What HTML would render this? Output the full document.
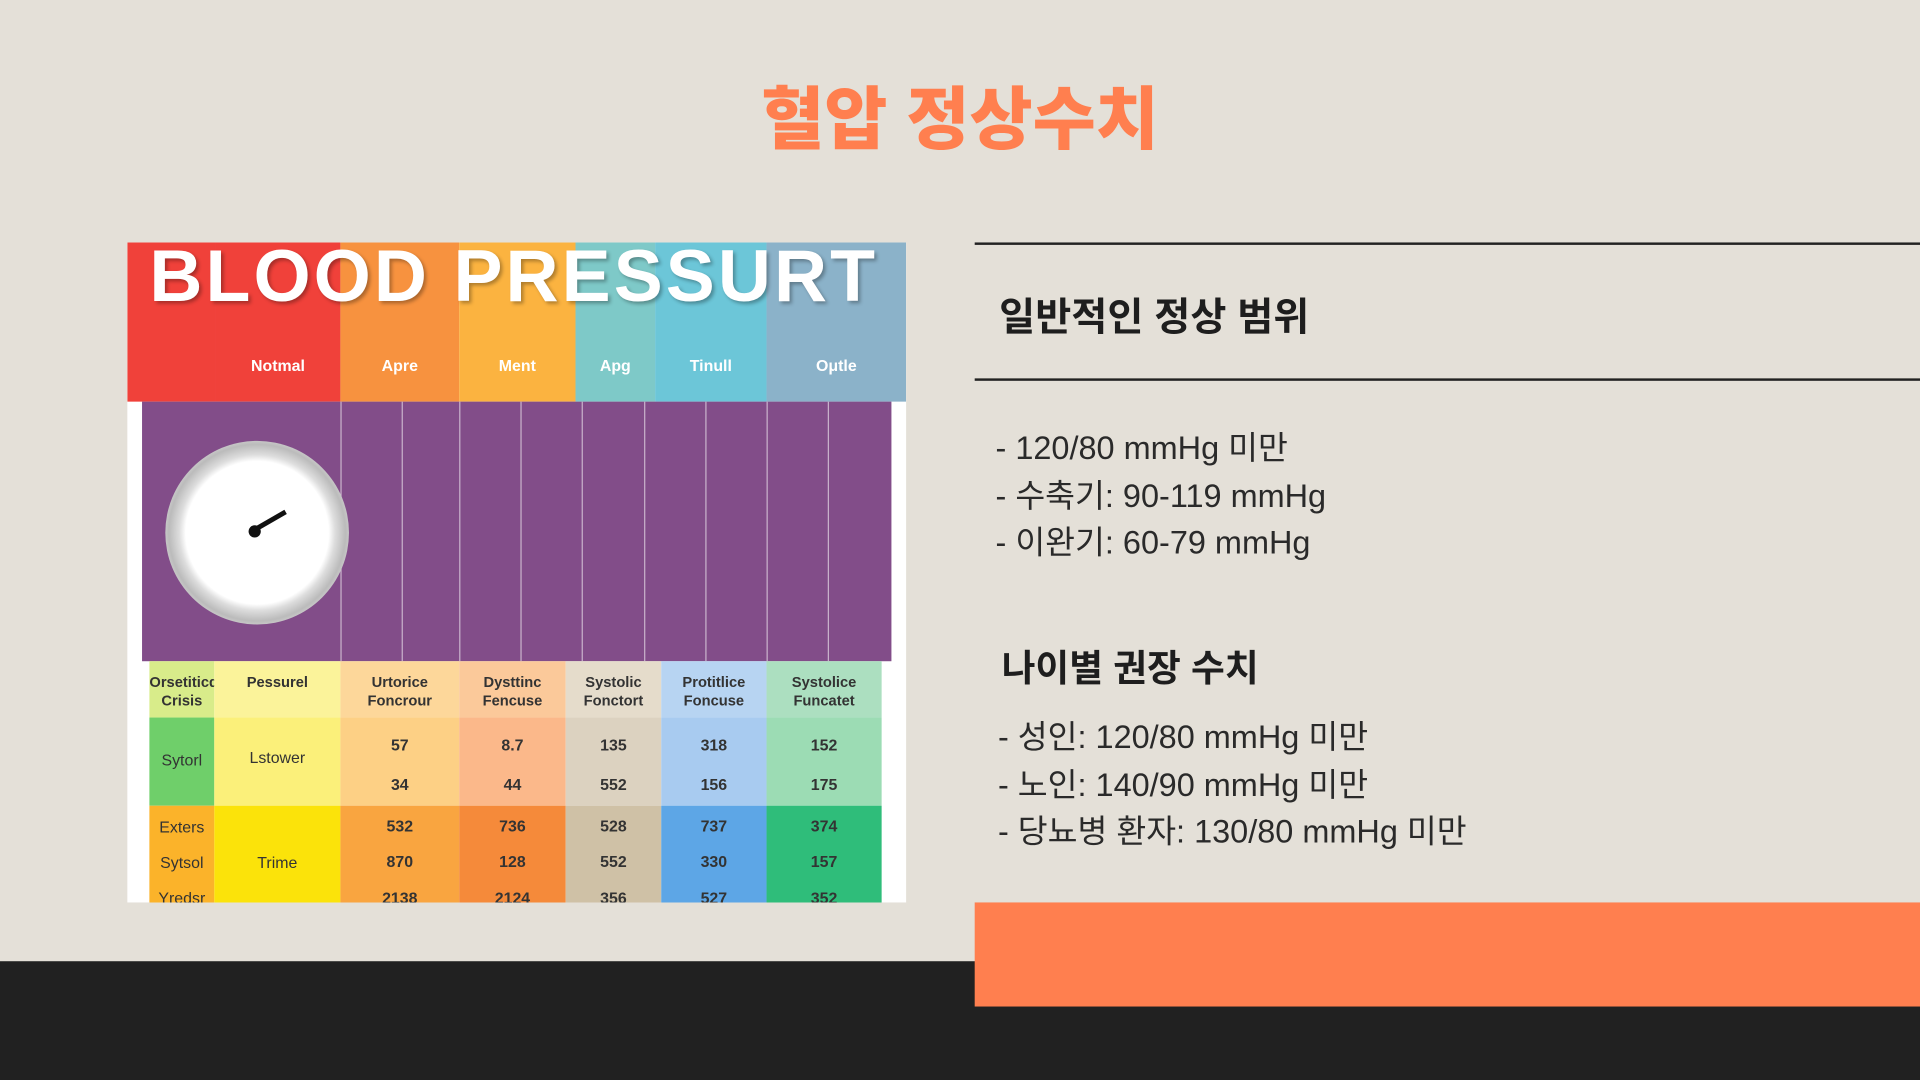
<!DOCTYPE html>
<html><head><meta charset="utf-8">
<style>
html,body{margin:0;padding:0;width:1920px;height:1080px;overflow:hidden;background:#e4e0d8;}
#page{position:absolute;left:0;top:0;width:1568px;height:882px;transform:scale(1.22449);transform-origin:0 0;font-family:"Liberation Sans","Noto Sans CJK KR",sans-serif;}
.abs{position:absolute;}
.t{position:absolute;white-space:nowrap;}
</style></head><body>
<div id="page">
  <div class="abs" style="left:0;top:785px;width:1568px;height:97px;background:#212121"></div>
  <div class="t" style="left:0;width:1568px;text-align:center;top:53px;font-size:56px;font-weight:900;color:#ff7f4f">혈압 정상수치</div>

  <div class="abs" id="img" style="left:104px;top:198px;width:636px;height:539px;background:#fff;overflow:hidden"></div>

  <div class="abs" style="left:796px;top:198px;width:772px;height:2px;background:#222"></div>
  <div class="abs" style="left:796px;top:309px;width:772px;height:2px;background:#222"></div>
  <div class="t" style="left:816px;top:234px;font-size:32px;font-weight:700;color:#1e1e1e">일반적인 정상 범위</div>
  <div class="t" style="left:813px;top:347px;font-size:26.5px;line-height:38.5px;color:#2a2a2a">- 120/80 mmHg 미만<br>- 수축기: 90-119 mmHg<br>- 이완기: 60-79 mmHg</div>
  <div class="t" style="left:818px;top:521px;font-size:30px;font-weight:700;color:#1e1e1e">나이별 권장 수치</div>
  <div class="t" style="left:815px;top:583px;font-size:26.5px;line-height:38.5px;color:#2a2a2a">- 성인: 120/80 mmHg 미만<br>- 노인: 140/90 mmHg 미만<br>- 당뇨병 환자: 130/80 mmHg 미만</div>
  <div class="abs" style="left:796px;top:737px;width:772px;height:85px;background:#ff7f4f"></div>
</div>
<script>
const bandLabels=["","Notmal","Apre","Ment","Apg","Tinull","Oμtle"];
const bandColors=["#f0413a","#f0413a","#f7923f","#fbb340","#7ec9c8","#6cc6d8","#8bb2c9"];
const bandEdges=[0,72,174,271,366,431,522,636];
const colEdges=[18,71,174,271,358,436,522,616];
const headers=["Orsetiticd\nCrisis","Pessurel","Urtorice\nFoncrour","Dysttinc\nFencuse","Systolic\nFonctort","Protitlice\nFoncuse","Systolice\nFuncatet"];
const row1Colors=["#6fcf6a","#fbf07a","#fdd085","#fbb88a","#dcd2c0","#a8cbf0","#9cdcb4"];
const row2Colors=["#fbb32a","#fbe30a","#f9a540","#f58a3a","#cfc1a6","#5da6e6","#2fbd7a"];
const hdrColors=["#d8ec8a","#fbf39a","#fdd79a","#fbc99a","#e5dccb","#b7d4f2","#acdfc0"];
const vals1a=["57","8.7","135","318","152"];
const vals1b=["34","44","552","156","175"];
const vals2a=["532","736","528","737","374"];
const vals2b=["870","128","552","330","157"];
const vals2c=["2138","2124","356","527","352"];
const img=document.getElementById('img');
function box(x,y,w,h,bg,name){const d=document.createElement('div');d.className='abs';d.style.cssText=`left:${x}px;top:${y}px;width:${w}px;height:${h}px;background:${bg}`;


img.appendChild(d);return d;}
function txt(x,y,w,s,size,color,name,bold){const d=document.createElement('div');d.className='t';d.style.cssText=`left:${x}px;top:${y}px;width:${w}px;text-align:center;font-size:${size}px;color:${color};font-weight:${bold?700:400};line-height:1.25;white-space:pre;overflow:hidden`;d.textContent=s;


img.appendChild(d);return d;}
for(let i=0;i<7;i++){box(bandEdges[i],0,bandEdges[i+1]-bandEdges[i],130,bandColors[i],'header-band');
 if(bandLabels[i])txt(bandEdges[i],93,bandEdges[i+1]-bandEdges[i],bandLabels[i],13,'#fff','band-label',true);}
const ti=txt(0,-10,636,"BLOOD PRESSURT",60,'#fff','chart-title',true);ti.style.textAlign='left';ti.style.left='18px';ti.style.letterSpacing='2.5px';ti.style.textShadow='2px 2px 3px rgba(0,0,0,.3)';ti.style.overflow='visible';
box(12,130,612,212,'#824d89','purple-panel');
[174,224,271,321,371,422,472,522,572].forEach(x=>box(x,130,1,212,'#c9b3cc','grid-line'));
const c=box(31,162,150,150,'radial-gradient(circle,#fff 0 55%,#ddd 60%,#bbb 68%,#eee 80%,#999 100%)','clock');c.style.borderRadius='50%';
const h=box(105,232,28,4,'#111','clock-hand');h.style.transform='rotate(-30deg)';h.style.transformOrigin='0 50%';
const dot=box(99,231,10,10,'#111','clock-center');dot.style.borderRadius='50%';
for(let i=0;i<7;i++){const x=colEdges[i],w=colEdges[i+1]-colEdges[i];
 box(x,342,w,46,hdrColors[i],'table-header-cell');txt(x,352,w,headers[i],12,'#333','table-header',true);
 box(x,388,w,72,row1Colors[i],'row-group-1');box(x,460,w,80,row2Colors[i],'row-group-2');}
txt(18,415,53,"Sytorl",13,'#333','row-label');txt(71,413,103,"Lstower",13,'#333','row-label');
txt(18,470,53,"Exters",13,'#333','row-label');txt(18,499,53,"Sytsol",13,'#333','row-label');txt(18,528,53,"Yredsr",13,'#333','row-label');
txt(71,499,103,"Trime",13,'#333','row-label');
for(let j=0;j<5;j++){const x=colEdges[j+2],w=colEdges[j+3]-colEdges[j+2];
 txt(x,403,w,vals1a[j],13,'#333','cell-value',true);txt(x,435,w,vals1b[j],13,'#333','cell-value',true);
 txt(x,469,w,vals2a[j],13,'#333','cell-value',true);txt(x,498,w,vals2b[j],13,'#333','cell-value',true);txt(x,528,w,vals2c[j],13,'#333','cell-value',true);}
</script>
</body></html>
